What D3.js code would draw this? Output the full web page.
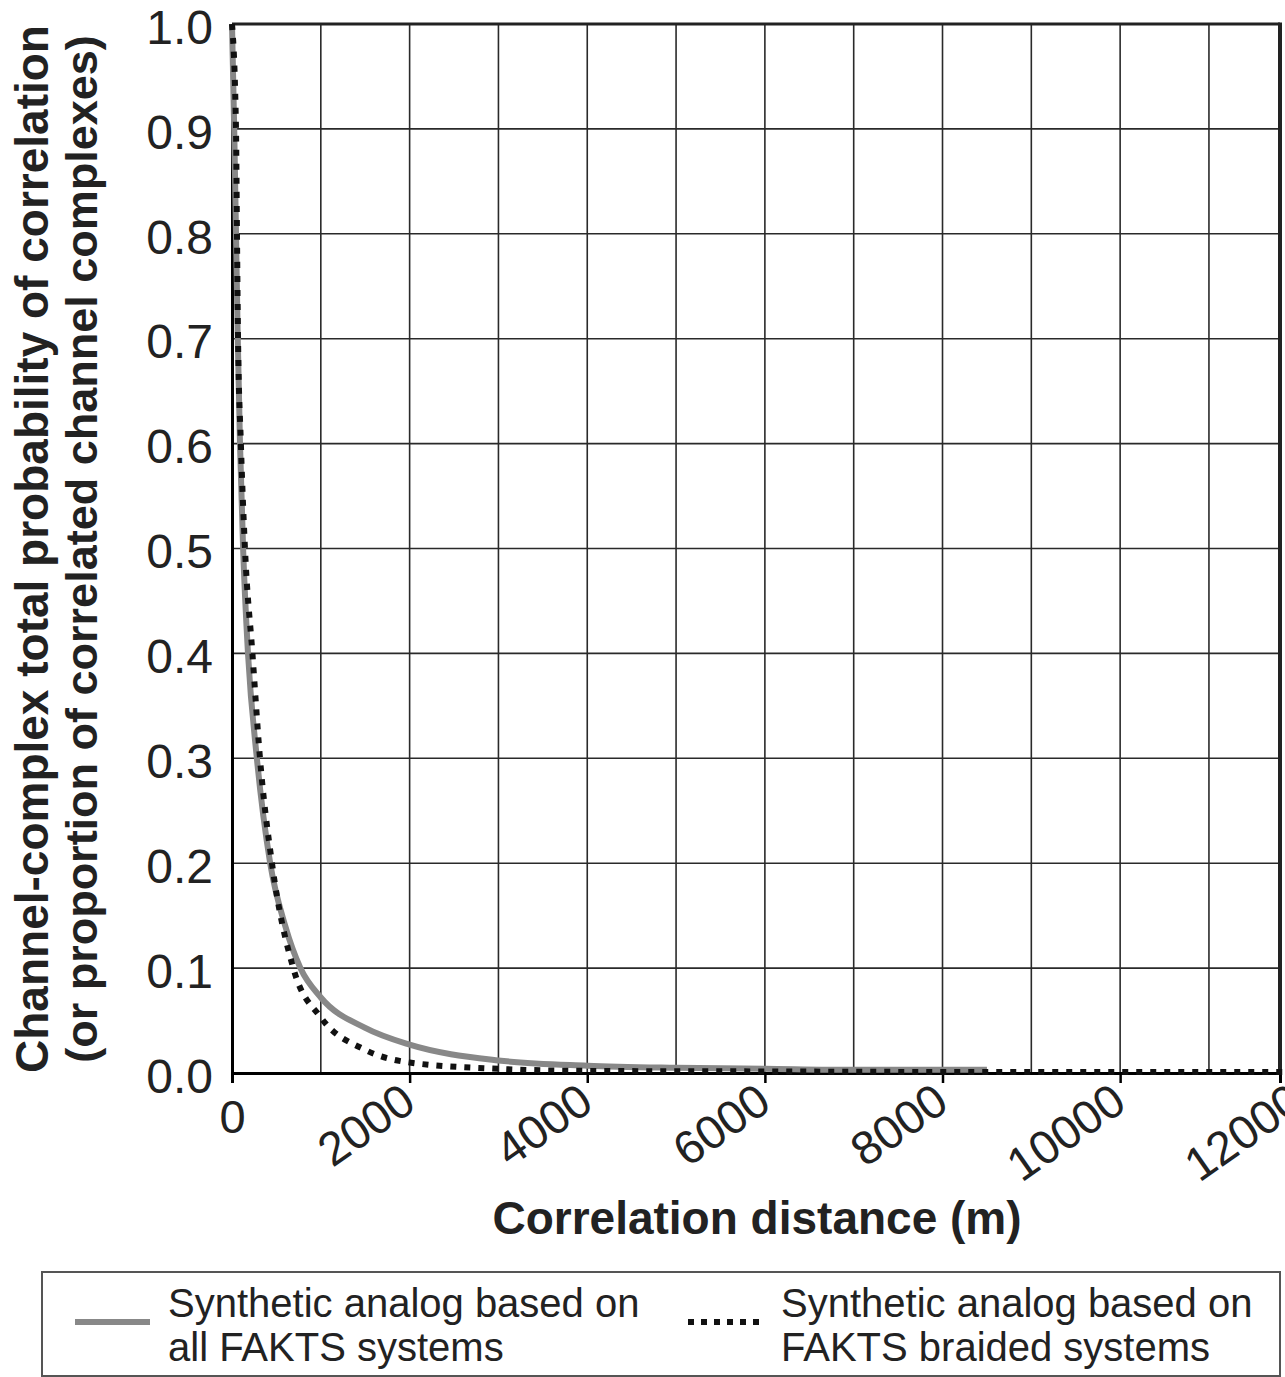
<!DOCTYPE html>
<html>
<head>
<meta charset="utf-8">
<script src="https://cdn.jsdelivr.net/npm/d3@7"></script>
<style>
  body { margin: 0; background: #fff; }
  svg { font-family: "Liberation Sans", Arial, sans-serif; }
</style>
</head>
<body>
<div class="container"></div>
<script>
// all FAKTS systems (grey solid)
var distAll = [0, 25, 45, 65, 90, 125, 180, 280, 430, 600, 770, 1000, 1500, 2000, 3000, 4000, 5000, 6000, 7000, 8000, 8500];
var probAll = [1.0, 0.9, 0.8, 0.7, 0.6, 0.5, 0.4, 0.3, 0.2, 0.14, 0.1, 0.072, 0.043, 0.027, 0.012, 0.007, 0.005, 0.004, 0.003, 0.003, 0.003];

// FAKTS braided systems (black dotted)
var distBraided = [0, 45, 56, 68, 100, 146, 230, 315, 450, 690, 1000, 1500, 2000, 3000, 4000, 6000, 8000, 10000, 12000];
var probBraided = [1.0, 0.9, 0.8, 0.7, 0.6, 0.5, 0.4, 0.3, 0.2, 0.1, 0.053, 0.022, 0.010, 0.004, 0.002, 0.0015, 0.001, 0.001, 0.001];

var xTicks = [0, 2000, 4000, 6000, 8000, 10000, 12000];
var yTicks = [0, 0.1, 0.2, 0.3, 0.4, 0.5, 0.6, 0.7, 0.8, 0.9, 1.0];
var xGrid = [1000, 2000, 3000, 4000, 5000, 6000, 7000, 8000, 9000, 10000, 11000];

var legendLabels = [
    ["Synthetic analog based on", "all FAKTS systems"],
    ["Synthetic analog based on", "FAKTS braided systems"]
];

const WIDTH = 1285;
const HEIGHT = 1377;
const LEFT = 232, RIGHT = 1280, TOP = 24, BOTTOM = 1073;
const FONT = '"Liberation Sans", Arial, sans-serif';

var svg = d3.select('.container').append('svg')
    .attr('width', WIDTH)
    .attr('height', HEIGHT);

var xScale = d3.scaleLinear().domain([0, 11800]).range([LEFT, RIGHT]);
var yScale = d3.scaleLinear().domain([0, 1]).range([BOTTOM, TOP]);

// grid
svg.append('g').selectAll('line').data(xGrid).enter().append('line')
    .attr('x1', function(d){ return xScale(d); })
    .attr('x2', function(d){ return xScale(d); })
    .attr('y1', yScale(0)).attr('y2', yScale(1))
    .attr('stroke', '#2a2a2a').attr('stroke-width', 1.6);

svg.append('g').selectAll('line').data(yTicks.slice(1, 10)).enter().append('line')
    .attr('x1', xScale(0)).attr('x2', RIGHT)
    .attr('y1', function(d){ return yScale(d); })
    .attr('y2', function(d){ return yScale(d); })
    .attr('stroke', '#2a2a2a').attr('stroke-width', 1.6);

// frame top + right
svg.append('line').attr('x1', LEFT).attr('x2', RIGHT).attr('y1', TOP).attr('y2', TOP)
    .attr('stroke', '#222').attr('stroke-width', 3);
svg.append('line').attr('x1', RIGHT).attr('x2', RIGHT).attr('y1', TOP - 1.5).attr('y2', BOTTOM)
    .attr('stroke', '#222').attr('stroke-width', 4);

// y axis
var yAxis = d3.axisLeft(yScale).tickValues(yTicks).tickSize(0).tickPadding(19)
    .tickFormat(d3.format('.1f'));
var gy = svg.append('g').attr('transform', 'translate(' + LEFT + ',0)').call(yAxis);
gy.select('.domain').attr('stroke', '#000').attr('stroke-width', 3);
gy.selectAll('text').attr('font-size', 48).attr('fill', '#222')
    .attr('font-family', FONT).attr('dy', '0.4em');

// x axis
var xAxis = d3.axisBottom(xScale).tickValues(xTicks).tickSize(10).tickPadding(0)
    .tickFormat(d3.format('d'));
var gx = svg.append('g').attr('transform', 'translate(0,' + BOTTOM + ')').call(xAxis);
gx.select('.domain').attr('stroke', '#000').attr('stroke-width', 3);
gx.selectAll('.tick line').attr('stroke', '#000').attr('stroke-width', 2.5);
gx.selectAll('text')
    .attr('font-size', 47).attr('fill', '#222')
    .attr('font-family', FONT)
    .each(function(d){
        var t = d3.select(this);
        if (d === 0) {
            t.attr('text-anchor', 'middle').attr('y', 27).attr('dy', '0.71em');
        } else {
            t.attr('text-anchor', 'end').attr('y', 0).attr('dy', 0)
             .attr('transform', 'translate(8,35) rotate(-35)');
        }
    });

// curves
var line = d3.line()
    .x(function(d){ return xScale(d[0]); })
    .y(function(d){ return yScale(d[1]); })
    .curve(d3.curveMonotoneX);

svg.append('path')
    .attr('d', line(d3.zip(distAll, probAll)))
    .attr('fill', 'none').attr('stroke', '#888').attr('stroke-width', 6);

svg.append('path')
    .attr('d', line(d3.zip(distBraided, probBraided)))
    .attr('fill', 'none').attr('stroke', '#111').attr('stroke-width', 6)
    .attr('stroke-dasharray', '6 8');

// axis titles
svg.append('text')
    .attr('transform', 'translate(757,1234)')
    .attr('text-anchor', 'middle').attr('font-size', 46).attr('font-weight', 'bold')
    .attr('fill', '#222')
    .text('Correlation distance (m)');

var yTitle = svg.append('g').attr('transform', 'translate(0,549) rotate(-90)');
yTitle.append('text').attr('x', 0).attr('y', 48)
    .attr('text-anchor', 'middle').attr('font-size', 46).attr('font-weight', 'bold').attr('fill', '#222')
    .text('Channel-complex total probability of correlation');
yTitle.append('text').attr('x', 0).attr('y', 97)
    .attr('text-anchor', 'middle').attr('font-size', 45).attr('font-weight', 'bold').attr('fill', '#222')
    .text('(or proportion of correlated channel complexes)');

// legend
var legend = svg.append('g');
legend.append('rect')
    .attr('x', 42).attr('y', 1272).attr('width', 1238).attr('height', 104)
    .attr('fill', 'none').attr('stroke', '#555').attr('stroke-width', 2);

var legendItems = [
    { x: 75, text: legendLabels[0], color: '#888', width: 6, dash: null },
    { x: 688, text: legendLabels[1], color: '#111', width: 6, dash: '6 7' }
];
legendItems.forEach(function(item){
    var g = legend.append('g').attr('transform', 'translate(' + item.x + ',0)');
    g.append('line').attr('x1', 0).attr('x2', 75).attr('y1', 1322).attr('y2', 1322)
        .attr('stroke', item.color).attr('stroke-width', item.width)
        .attr('stroke-dasharray', item.dash);
    g.append('text').attr('x', 93).attr('y', 1317).attr('font-size', 40).attr('fill', '#222')
        .text(item.text[0]);
    g.append('text').attr('x', 93).attr('y', 1361).attr('font-size', 40).attr('fill', '#222')
        .text(item.text[1]);
});
</script>
</body>
</html>
